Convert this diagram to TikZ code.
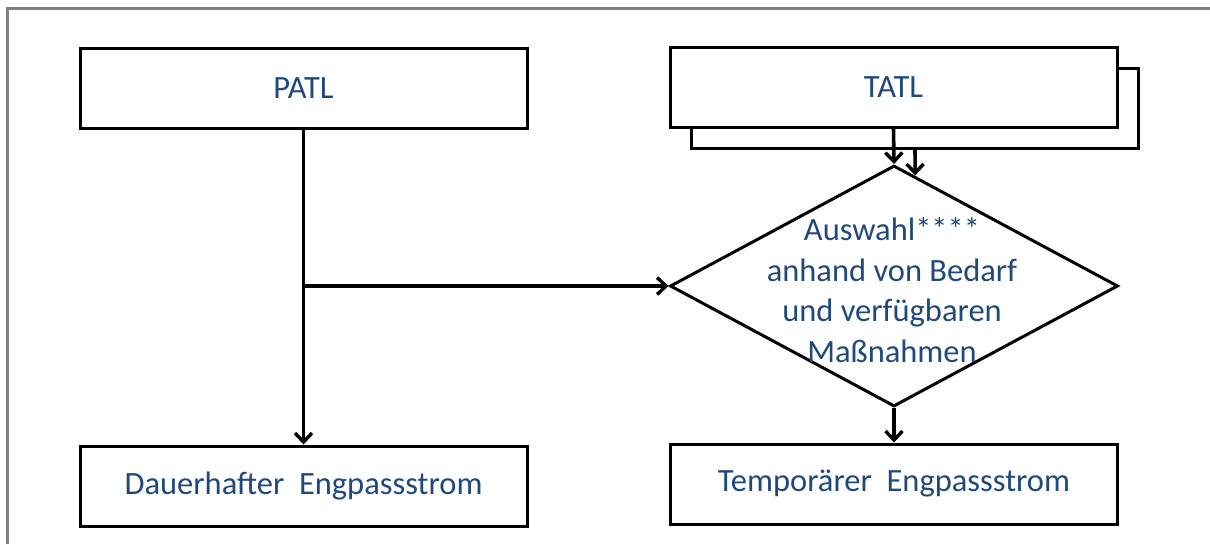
\documentclass[tikz,border=0pt]{standalone}
\usepackage{fontspec}
\setmainfont{Carlito}
\usetikzlibrary{shapes.geometric,arrows.meta,calc}
\definecolor{txtblue}{RGB}{31,73,125}
\definecolor{framegray}{RGB}{128,128,128}
\tikzset{
  box/.style={draw, line width=3pt, fill=white, minimum width=447pt, minimum height=80pt,
    inner sep=0pt, text=txtblue, font=\fontsize{32.5}{38}\selectfont},
  decision/.style={diamond, draw, line width=3pt, minimum width=448pt, minimum height=241pt, inner sep=0pt},
  flow/.style={line width=3.6pt, -{Straight Barb[length=9pt,width=17pt,line width=3.4pt]}}
}
\begin{document}
\begin{tikzpicture}[x=1pt,y=-1pt]
        \useasboundingbox (0,0) rectangle (1210,544);
        % frame
        \draw[framegray, line width=3pt] (7,544) -- (7,8) -- (1210,8);
        % boxes
        \node[box] (PATL) at (303.5,88) {PATL};
        \node[box] (DAU) at (303.5,486) {Dauerhafter\ \ Engpassstrom};
        \node[box] (TATLb) at (915,108) {};
        \node[box] (TATL) at (893.5,87) {TATL};
        \node[decision] (sel) at (894,286) {};
        \node[text=txtblue, align=center, font=\fontsize{32.5}{40.5}\selectfont] (seltxt) at (892,290)
          {Auswahl****\\anhand von Bedarf\\und verfügbaren\\Maßnahmen};
        \node[box] (TEMP) at (894,484) {Temporärer\ \ Engpassstrom};
        % connectors
        \coordinate (br) at (PATL.south |- sel.west);
        \coordinate (selne) at ($(sel.north)!0.094!(sel.east)$);
        \draw[flow] (PATL.south) -- (DAU.north);
        \draw[flow] (br) -- (sel.west);
        \draw[flow] (TATL.south) -- (sel.north);
        \draw[flow] (TATLb.south) -- (selne);
        \draw[flow] (sel.south) -- (TEMP.north);
    \end{tikzpicture}
\end{document}
